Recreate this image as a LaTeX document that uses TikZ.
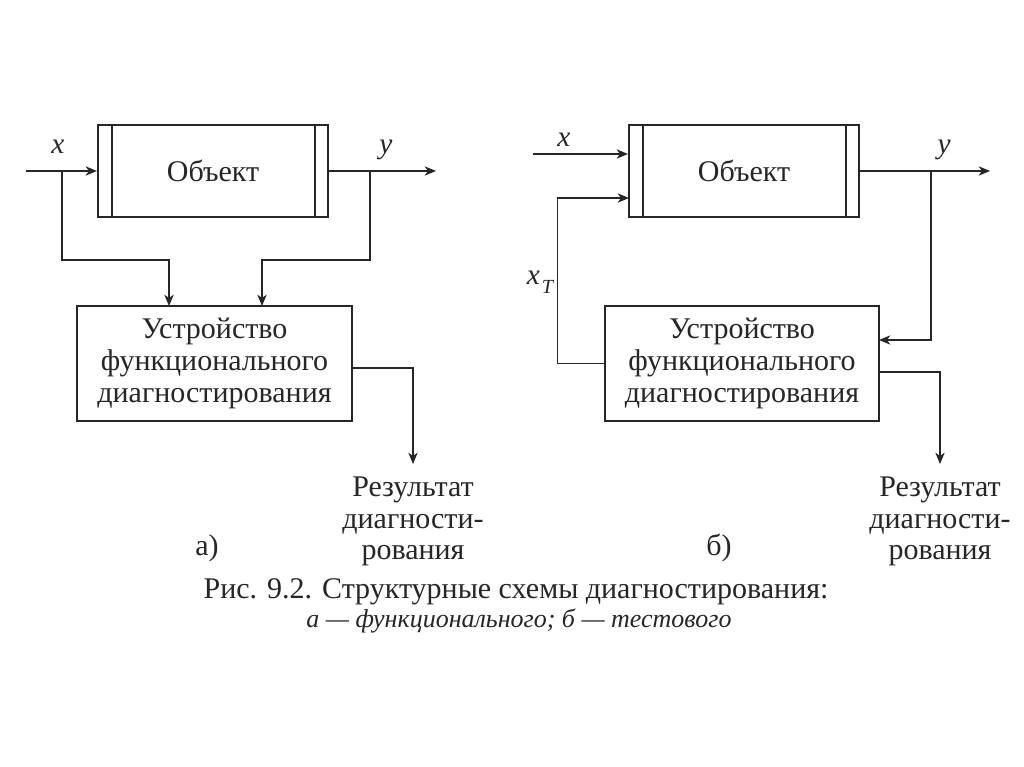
\documentclass[tikz,border=0pt]{standalone}
\usepackage{fontspec}
\setmainfont{Liberation Serif}
\usetikzlibrary{arrows.meta,calc}
\definecolor{ink}{HTML}{262626}
\tikzset{
  boxline/.style={draw=ink, line width=1.6pt},
  arr/.style={draw=ink, line width=0.9pt, -{Stealth[length=8.5pt,width=7pt,inset=2.5pt]}},
  objbox/.style={boxline, minimum width=172.5pt, minimum height=69pt, inner sep=0pt,
     font=\fontsize{22.5}{24}\selectfont, text=ink},
  devbox/.style={boxline, minimum width=206pt, minimum height=86pt, inner sep=0pt, align=center,
     font=\fontsize{22.5}{24}\selectfont, text=ink},
  restext/.style={align=center, inner sep=0pt, font=\fontsize{22.5}{23.5}\selectfont, text=ink},
  lab/.style={inner sep=0pt, font=\fontsize{22}{24}\selectfont\itshape, text=ink},
  plain/.style={inner sep=0pt, font=\fontsize{22.5}{24}\selectfont, text=ink},
}
\begin{document}
\begin{tikzpicture}[x=0.75pt,y=-0.75pt]
\useasboundingbox[fill=white] (0,0) rectangle (1024,767);

% ---------- a)
\node[objbox] (objA) at (213,171) {Объект};
\draw[boxline] ($(objA.north west)+(15,0)$) -- ($(objA.south west)+(15,0)$);
\draw[boxline] ($(objA.north east)+(-14,0)$) -- ($(objA.south east)+(-14,0)$);
\node[devbox] (devA) at (214.5,363.5) {Устройство\\функционального\\диагностирования};
\coordinate (inA) at (26,171);
\coordinate (bxA) at (62,171);
\coordinate (byA) at (370,171);
\coordinate (outA) at (436,171);
\coordinate (dA1) at (169,306);
\coordinate (dA2) at (262,306);
\coordinate (oA) at (352,368);
\node[lab] (xA) at (58,147) {x};
\node[lab] (yA) at (386,150) {y};
\draw[arr] (inA) -- (objA.west);
\draw[arr] (objA.east) -- (outA);
\draw[arr] (bxA) -- ++(0,89) -| (dA1);
\draw[arr] (byA) -- ++(0,89) -| (dA2);
\node[restext, anchor=north] (resA) at (413,477) {Результат\\диагности-\\рования};
\draw[arr] (oA) -| ($(resA.north)+(0,-13)$);
\node[plain] (labA) at (207,548) {а)};

% ---------- б)
\node[objbox] (objB) at (744,171) {Объект};
\draw[boxline] ($(objB.north west)+(15,0)$) -- ($(objB.south west)+(15,0)$);
\draw[boxline] ($(objB.north east)+(-14,0)$) -- ($(objB.south east)+(-14,0)$);
\node[devbox] (devB) at (742,363.5) {Устройство\\функционального\\диагностирования};
\coordinate (inB) at (533,154);
\coordinate (tB) at (629,198);
\coordinate (byB) at (931,171);
\coordinate (outB) at (990,171);
\coordinate (eB) at (879,340);
\coordinate (oB) at (879,372);
\node[lab] (xB) at (564,140) {x};
\node[lab] (yB) at (944,150) {y};
\node[lab] (xT) at (540,282) {x\kern1.5pt\raisebox{-6.5pt}{\fontsize{15}{15}\selectfont T}};
\draw[arr] (inB) -- (inB -| objB.west);
\draw[arr] (devB.west) -- ++(-46,0) |- (tB);
\draw[arr] (objB.east) -- (outB);
\draw[arr] (byB) |- (eB);
\node[restext, anchor=north] (resB) at (940,477) {Результат\\диагности-\\рования};
\draw[arr] (oB) -| ($(resB.north)+(0,-13)$);
\node[plain] (labB) at (719,548) {б)};

% ---------- caption
\node[plain] (cap1) at (516,592) {Рис. 9.2. Структурные схемы диагностирования:};
\node[lab, font=\fontsize{19.5}{21}\selectfont\itshape] (cap2) at (519,621) {а — функционального; б — тестового};
\end{tikzpicture}
\end{document}
